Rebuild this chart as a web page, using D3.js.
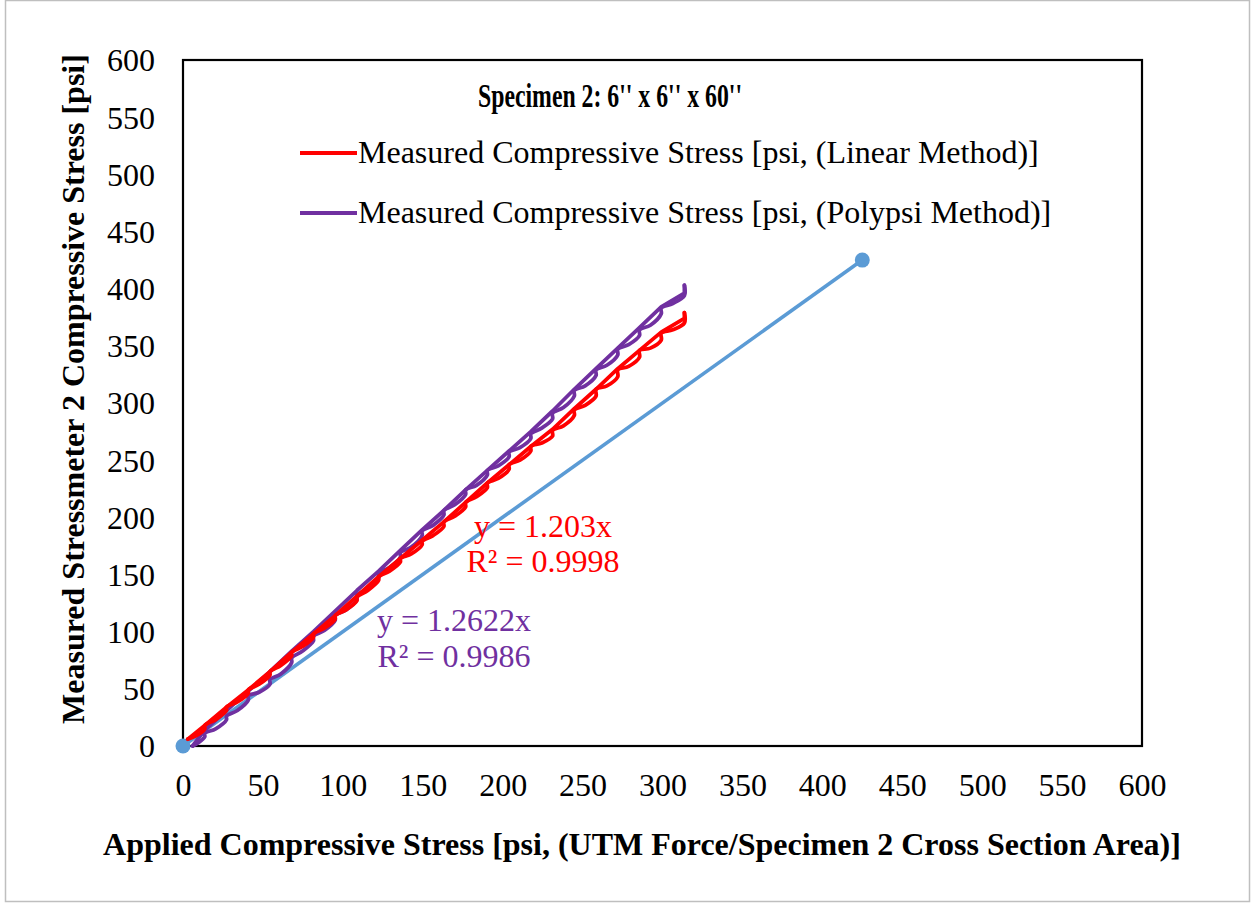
<!DOCTYPE html>
<html>
<head>
<meta charset="utf-8">
<script src="https://cdn.jsdelivr.net/npm/d3@7"></script>
<style>
  body { margin: 0; background: #fff; }
  text { font-family: "Liberation Serif", "Times New Roman", serif; }
</style>
</head>
<body>
<svg id="chart" width="1254" height="905"></svg>
<script>
// Axis tick values (psi)
const xTicks = [0, 50, 100, 150, 200, 250, 300, 350, 400, 450, 500, 550, 600];
const yTicks = [0, 50, 100, 150, 200, 250, 300, 350, 400, 450, 500, 550, 600];

// 1:1 reference line (applied = measured)
const identityLine = [[0, 0], [425, 425]];

// Linear method: loading path (hold steps with lag between steps)
const redLoad = [
  [3, 6],
  [8.3, 9], [13.6, 15], [13.6, 18],
  [20.4, 23], [27.2, 31], [27.2, 34],
  [34, 38.5], [40.8, 46], [40.8, 49],
  [47.6, 54], [54.4, 62], [54.4, 65],
  [61.2, 70.5], [68, 79], [68, 82],
  [74.8, 87], [81.6, 95], [81.6, 98],
  [88.4, 103], [95.2, 111], [95.2, 114],
  [102, 119], [108.8, 127], [108.8, 130],
  [115.6, 136], [122.4, 145], [122.4, 148],
  [129.2, 153], [136, 161], [136, 164],
  [142.8, 168], [149.6, 176], [149.6, 179],
  [156.4, 184], [163.2, 192], [163.2, 196],
  [170, 201], [176.8, 209], [176.8, 213],
  [183.6, 218], [190.4, 226], [190.4, 230],
  [197.2, 234], [204, 242], [204, 246],
  [210.8, 250], [217.6, 258], [217.6, 262],
  [224.4, 265], [231.2, 271], [231.2, 276],
  [238, 280], [244.8, 289], [244.8, 294],
  [251.6, 298], [258.4, 306], [258.4, 312],
  [265.2, 315], [272, 323], [272, 329],
  [278.8, 332], [285.6, 340], [285.6, 346],
  [292.4, 348], [299.2, 355], [299.2, 361],
  [306.4, 364], [313.7, 370], [313.7, 379]
];
// Linear method: unloading path
const redUnload = [
  [313.7, 379], [313.7, 374], [299.2, 362], [285.6, 346], [272, 330], [258.4, 312],
  [244.8, 295], [231.2, 277], [217.6, 262], [204, 246], [190.4, 230],
  [176.8, 213], [163.2, 196], [149.6, 180], [136, 164], [122.4, 148],
  [108.8, 131], [95.2, 114], [81.6, 98], [68, 82], [54.4, 65],
  [40.8, 49], [27.2, 34], [13.6, 18], [3, 6]
];

// Polypsi method: loading path
const purpleLoad = [
  [6, 0],
  [9.8, 3], [13.6, 8], [13.6, 11],
  [20.4, 15], [27.2, 23], [27.2, 26],
  [34, 31], [40.8, 40], [40.8, 44],
  [47.6, 47], [54.4, 54], [54.4, 58],
  [61.2, 63], [68, 73], [68, 77],
  [74.8, 83], [81.6, 92], [81.6, 96],
  [88.4, 101], [95.2, 110], [95.2, 114],
  [102, 119], [108.8, 128], [108.8, 132],
  [115.6, 137], [122.4, 147], [122.4, 151],
  [129.2, 156], [136, 165], [136, 169],
  [142.8, 174], [149.6, 184], [149.6, 188],
  [156.4, 193], [163.2, 202], [163.2, 206],
  [170, 211], [176.8, 220], [176.8, 224],
  [183.6, 228], [190.4, 237], [190.4, 241],
  [197.2, 245], [204, 253], [204, 257],
  [210.8, 261], [217.6, 269], [217.6, 273],
  [224.4, 278], [231.2, 286], [231.2, 291],
  [238, 296], [244.8, 306], [244.8, 311],
  [251.6, 315], [258.4, 324], [258.4, 329],
  [265.2, 333], [272, 342], [272, 347],
  [278.8, 351], [285.6, 359], [285.6, 364],
  [292.4, 368], [299.2, 378], [299.2, 383],
  [306.4, 387], [313.7, 394], [313.7, 403]
];
// Polypsi method: unloading path
const purpleUnload = [
  [313.7, 403], [313.7, 396], [299.2, 384], [285.6, 366], [272, 348], [258.4, 330],
  [244.8, 312], [231.2, 293], [217.6, 275], [204, 258], [190.4, 241],
  [176.8, 224], [163.2, 206], [149.6, 189], [136, 171], [122.4, 153],
  [108.8, 136], [95.2, 118], [81.6, 100], [68, 83], [54.4, 65],
  [40.8, 48], [27.2, 31], [13.6, 14], [6, 0]
];

const seriesNames = [
  "Measured Compressive Stress [psi, (Linear Method)]",
  "Measured Compressive Stress [psi, (Polypsi Method)]"
];
const trendLabels = [
  ["y = 1.203x", "R\u00B2 = 0.9998"],
  ["y = 1.2622x", "R\u00B2 = 0.9986"]
];

const RED = "#FF0000", PURPLE = "#7030A0", BLUE = "#5B9BD5";
const FONT = 32;

const svg = d3.select("#chart");

// outer chart frame
svg.append("rect")
  .attr("x", 5.5).attr("y", 0.5).attr("width", 1244).attr("height", 901)
  .attr("fill", "#fff").attr("stroke", "#BFBFBF").attr("stroke-width", 1.5);

const plot = { left: 183, right: 1142, top: 60, bottom: 746 };
const x = d3.scaleLinear().domain([0, 600]).range([plot.left, plot.right]);
const y = d3.scaleLinear().domain([0, 600]).range([plot.bottom, plot.top]);

// tick labels via d3 axes (no tick marks, no domain line)
const xAxis = svg.append("g")
  .attr("transform", `translate(0,${plot.bottom})`)
  .call(d3.axisBottom(x).tickValues(xTicks).tickSize(0).tickFormat(d3.format("d")));
const yAxis = svg.append("g")
  .attr("transform", `translate(${plot.left},0)`)
  .call(d3.axisLeft(y).tickValues(yTicks).tickSize(0).tickPadding(28).tickFormat(d3.format("d")));
[xAxis, yAxis].forEach(g => {
  g.select(".domain").remove();
  g.selectAll("text")
    .attr("font-family", "Liberation Serif, Times New Roman, serif")
    .attr("font-size", FONT).attr("fill", "#000");
});
xAxis.selectAll("text").attr("y", 50).attr("dy", 0);
yAxis.selectAll("text").attr("dy", "0.34em");

// plot area border
svg.append("rect")
  .attr("x", plot.left).attr("y", plot.top)
  .attr("width", plot.right - plot.left).attr("height", plot.bottom - plot.top)
  .attr("fill", "none").attr("stroke", "#000").attr("stroke-width", 2.2);

const line = d3.line().x(d => x(d[0])).y(d => y(d[1]));
const smooth = d3.line().x(d => x(d[0])).y(d => y(d[1])).curve(d3.curveCatmullRom.alpha(0.5));

// 1:1 line with end markers
svg.append("path").datum(identityLine)
  .attr("d", line).attr("fill", "none").attr("stroke", BLUE).attr("stroke-width", 3.6);
svg.selectAll("circle.ref").data(identityLine).join("circle")
  .attr("class", "ref")
  .attr("cx", d => x(d[0])).attr("cy", d => y(d[1])).attr("r", 7.5)
  .attr("fill", BLUE);

// measured series
[[purpleUnload, PURPLE, line], [purpleLoad, PURPLE, smooth],
 [redUnload, RED, line], [redLoad, RED, smooth]].forEach(([data, color, gen]) => {
  svg.append("path").datum(data)
    .attr("d", gen).attr("fill", "none").attr("stroke", color)
    .attr("stroke-width", 3.8).attr("stroke-linejoin", "round").attr("stroke-linecap", "round");
});

// title (condensed bold)
svg.append("text")
  .attr("x", 610).attr("y", 107).attr("text-anchor", "middle")
  .attr("font-size", 33).attr("font-weight", "bold")
  .attr("textLength", 264).attr("lengthAdjust", "spacingAndGlyphs")
  .text("Specimen 2: 6'' x 6'' x 60''");

// legend
const legendY = [153, 213];
seriesNames.forEach((name, i) => {
  const color = i === 0 ? RED : PURPLE;
  svg.append("line")
    .attr("x1", 300).attr("x2", 357).attr("y1", legendY[i]).attr("y2", legendY[i])
    .attr("stroke", color).attr("stroke-width", 3.8);
  svg.append("text")
    .attr("x", 358).attr("y", legendY[i] + 10)
    .attr("font-size", FONT).attr("fill", "#000")
    .text(name);
});

// trendline equations
const trendPos = [[543, 537, 572, RED], [454, 631, 667, PURPLE]];
trendLabels.forEach((lbl, i) => {
  const [cx, y1, y2, color] = trendPos[i];
  svg.append("text").attr("x", cx).attr("y", y1).attr("text-anchor", "middle")
    .attr("font-size", FONT).attr("fill", color).text(lbl[0]);
  svg.append("text").attr("x", cx).attr("y", y2).attr("text-anchor", "middle")
    .attr("font-size", FONT).attr("fill", color).text(lbl[1]);
});

// axis titles
svg.append("text")
  .attr("x", 642).attr("y", 855).attr("text-anchor", "middle")
  .attr("font-size", FONT).attr("font-weight", "bold")
  .text("Applied Compressive Stress [psi, (UTM Force/Specimen 2 Cross Section Area)]");
svg.append("text")
  .attr("transform", "translate(84,389) rotate(-90)")
  .attr("text-anchor", "middle")
  .attr("font-size", FONT).attr("font-weight", "bold")
  .text("Measured Stressmeter 2 Compressive Stress [psi]");
</script>
</body>
</html>
